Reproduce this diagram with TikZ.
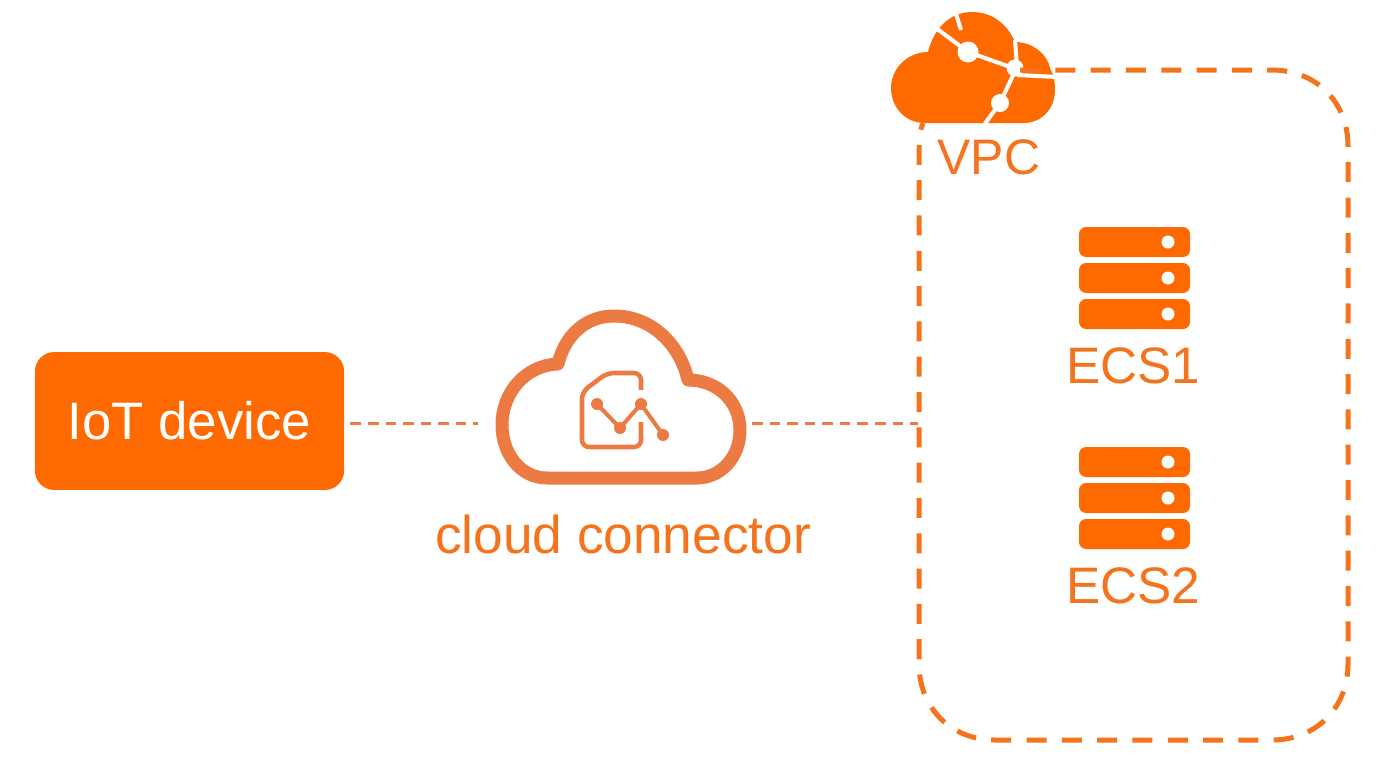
\documentclass[tikz,border=0pt]{standalone}
\usepackage{fontspec}
\setmainfont{Liberation Sans}
\definecolor{vpcorange}{HTML}{FF6A00}
\definecolor{cloudorange}{HTML}{EC7A43}
\definecolor{textorange}{HTML}{F4731C}
\tikzset{
  lbl/.style={text=textorange, font=\fontsize{#1}{32}\selectfont, inner sep=0pt},
  devicebox/.style={fill=vpcorange, rounded corners=11pt, minimum width=176pt, minimum height=78.5pt, text=white, font=\fontsize{30}{32}\selectfont},
  thinlink/.style={draw=cloudorange, line width=1.7pt, dash pattern=on 6pt off 4pt},
  vpcline/.style={draw=textorange, line width=2.85pt, dash pattern=on 11.4pt off 8.7pt},
  bar/.style={fill=vpcorange, rounded corners=4pt},
  cut/.style={draw=white, line width=2.3pt},
}
\begin{document}
\begin{tikzpicture}[x=0.02cm, y=-0.02cm]
    \useasboundingbox (0,0) rectangle (1376,768);

    \draw (189.5,421) node[devicebox] (device) {IoT device};
    \draw (623,534) node[lbl=30.3] (connectorlabel) {cloud connector};

    % connector cloud
    \draw[cloudorange, line width=7.4pt, line join=round]
        (547,478) .. controls (520,478) and (502,453) .. (502,425)
        .. controls (502,392) and (526,365) .. (558,364)
        .. controls (565,335) and (586,316) .. (614,316)
        .. controls (652,316) and (680,345) .. (688,380)
        .. controls (718,380) and (740,402) .. (740,430)
        .. controls (740,458) and (720,478) .. (697,478) -- cycle;
    \draw[cloudorange, line width=2.6pt, line join=round, rounded corners=4pt]
        (641,390) -- (641,373) -- (607,373) -- (582,392) -- (582,447) -- (641,447) -- (641,422);
    \draw[cloudorange, line width=2.3pt] (597,404) -- (620,428) -- (641,404) -- (663,435);
    \foreach \px/\py in {597/404, 620/428, 641/404, 663/435}
        \fill[cloudorange] (\px,\py) circle (6);

    % vpc cloud
    \fill[vpcorange] (925,123) .. controls (904,123) and (891,106) .. (891,88)
        .. controls (891,68) and (908,52) .. (928,52)
        .. controls (934,28) and (950,12) .. (972,12)
        .. controls (994,12) and (1008,26) .. (1015,42)
        .. controls (1034,42) and (1048,56) .. (1050,68)
        .. controls (1054,76) and (1055,82) .. (1055,90)
        .. controls (1055,108) and (1042,123) .. (1024,123) -- cycle;
    \draw[cut] (936,28) -- (968,52) -- (1016,69) -- (1000,103) -- (984,125);
    \draw[cut] (956,14) -- (961,30);
    \draw[cut] (1015,40) -- (1017,66);
    \draw[cut] (1017,75) -- (1057,77);
    \fill[white] (968,52) circle (10.5);
    \fill[white] (1015,68) circle (8.5);
    \fill[white] (1000,103) circle (9);

    % vpc border
    \draw[vpcline] (1020,70) -- (1272,70)
        .. controls (1316,70) and (1348,102) .. (1348,146) -- (1348,664)
        .. controls (1348,708) and (1316,740) .. (1272,740) -- (995,740)
        .. controls (951,740) and (919,708) .. (919,664) -- (919,145)
        .. controls (919,135) and (921,128) .. (923,123);
    \draw (989,157) node[lbl=28.4] (vpclabel) {VPC};

    % servers
    \foreach \oy/\nm in {0/1, 220/2} {
        \foreach \by in {227, 263, 299} {
            \fill[bar] (1079,\by+\oy) rectangle (1190,\by+\oy+30);
            \fill[white] (1168,\by+\oy+15) circle (6.5);
        }
        \draw (1133,366+\oy) node[lbl=29.2] (ecs\nm) {ECS\nm};
    }

    % links
    \coordinate (connleft) at (478,423.5);
    \coordinate (connright) at (752,423.5);
    \coordinate (vpcleft) at (918,423.5);
    \draw[thinlink, shorten <=3.4pt] (device.east |- connleft) -- (connleft);
    \draw[thinlink] (connright) -- (vpcleft);
\end{tikzpicture}
\end{document}
